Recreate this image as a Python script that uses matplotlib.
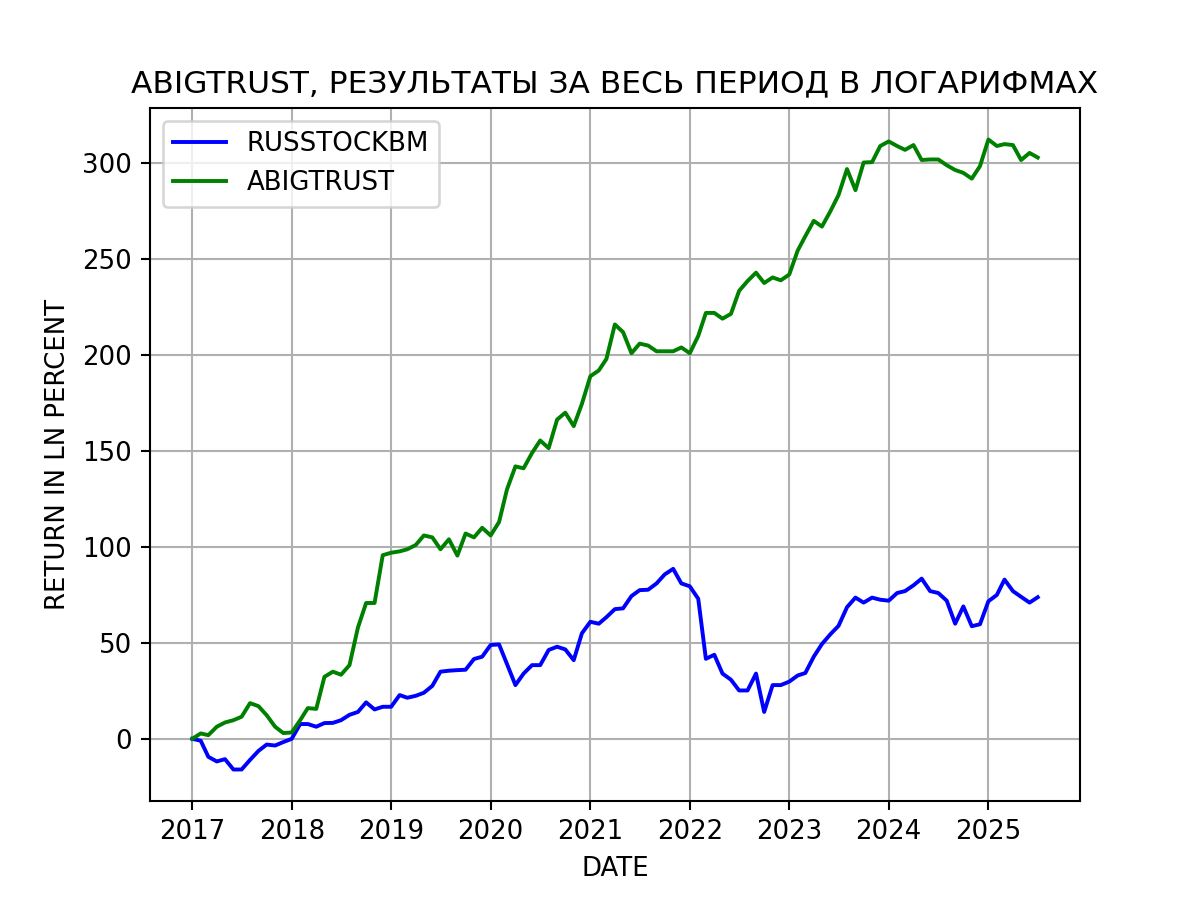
import matplotlib
matplotlib.use("Agg")
import matplotlib.pyplot as plt
import pandas as pd

dates = pd.date_range("2017-01-01", "2025-07-01", freq="MS")

russtock = [
    0, -1, -9.4, -11.8, -10.6, -16, -16, -11, -6.3, -3, -3.5, -1.7,
    0, 7.7, 7.7, 6.3, 8.2, 8.3, 9.7, 12.5, 14, 19, 15.3, 16.7,
    16.7, 22.8, 21.4, 22.4, 24, 27.6, 35, 35.5, 35.8, 36, 41.6, 42.8,
    48.9, 49.2, 39, 28, 34, 38.4, 38.4, 46.3, 48, 46.6, 41, 55,
    61, 60, 63.4, 67.6, 68, 74.4, 77.5, 77.7, 81, 85.7, 88.6, 81,
    79.5, 73, 41.7, 43.8, 34, 30.8, 25.2, 25.2, 34, 14, 28, 28,
    29.8, 33, 34.3, 42.8, 49.4, 54.5, 58.9, 68.6, 73.6, 71, 73.6, 72.5,
    72, 76, 77, 80, 83.5, 77, 76, 72, 60, 69, 58.7, 59.7,
    71.7, 75, 83, 77, 74, 71, 73.8,
]

abigtrust = [
    0, 2.8, 1.9, 6.3, 8.5, 9.7, 11.5, 18.6, 17, 12.3, 6.3, 3,
    3.3, 9.7, 16, 15.6, 32.3, 35, 33.4, 38.4, 58, 70.8, 70.8, 95.7,
    97, 97.7, 98.8, 101, 106, 105, 98.8, 104, 95.5, 107, 105, 110,
    106, 113, 130, 142, 141, 149, 155.5, 151.5, 166.4, 170, 163, 174.6,
    189, 192, 198, 216, 212, 201, 206, 205, 202, 202, 202, 204,
    201, 210, 222, 222, 219, 221.5, 233.5, 238.6, 243, 237.6, 240.5, 239,
    242, 254.5, 262, 270, 267, 275, 283.5, 297, 286, 300.4, 300.6, 309,
    311.4, 309, 307, 309.5, 301.7, 302, 302, 299, 296.5, 295, 292, 298.5,
    312.4, 309, 310, 309.5, 301.7, 305.4, 303,
]

fig, ax = plt.subplots(figsize=(6.4, 4.8), dpi=187.5)
ax.plot(dates, russtock, color="blue", label="RUSSTOCKBM")
ax.plot(dates, abigtrust, color="green", label="ABIGTRUST")

ax.set(xlabel="DATE", ylabel="RETURN IN LN PERCENT",
       title="ABIGTRUST, РЕЗУЛЬТАТЫ ЗА ВЕСЬ ПЕРИОД В ЛОГАРИФМАХ")
ax.grid()
ax.legend(loc="upper left")

fig.savefig("out.png")
